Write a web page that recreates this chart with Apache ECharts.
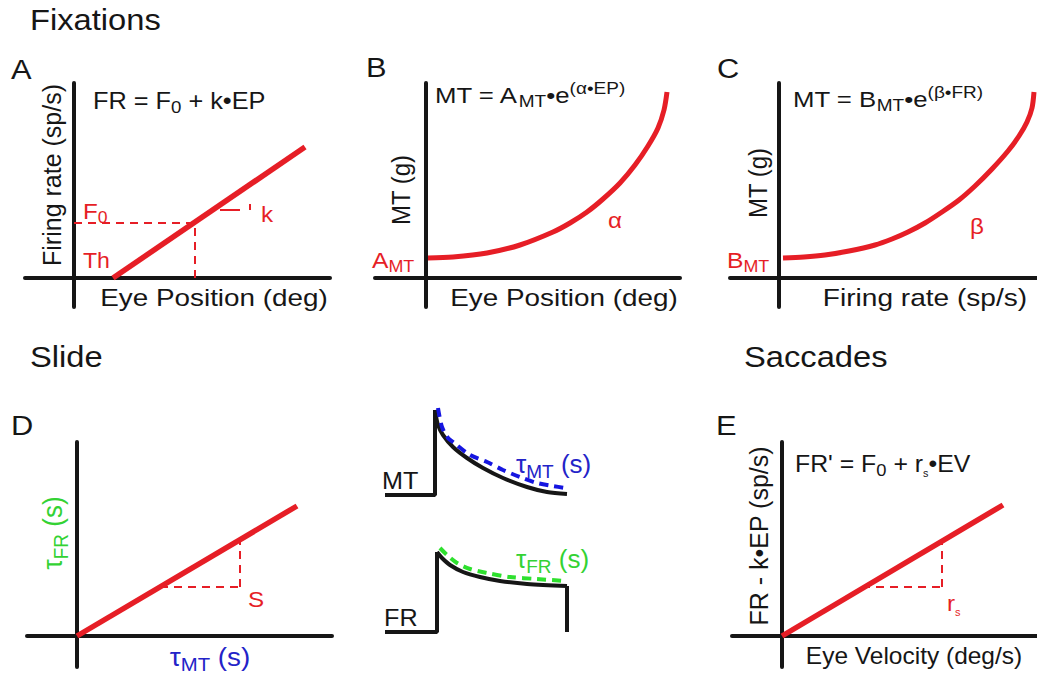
<!DOCTYPE html>
<html>
<head>
<meta charset="utf-8">
<script src="https://cdn.jsdelivr.net/npm/echarts@6/dist/echarts.min.js"></script>
<style>html,body{margin:0;padding:0;background:#fff}#c{width:1037px;height:675px}</style>
</head>
<body>
<div id="c"></div>
<script>
// ---------- data (schematic units) ----------
const aLine = [[3.9, 0], [23.1, 13.1]];
const aF0H = [[0, 5.5], [12.1, 5.5]];
const aF0V = [[12.1, 0], [12.1, 5.5]];
const aSlopeH = [[14.6, 6.8], [16.6, 6.8]];
const aSlopeV = [[17.6, 6.8], [17.6, 7.4]];

const bCurve = [[0.2, 2.0], [2.7, 2.1], [6.1, 2.5], [9.4, 3.3], [12.7, 4.6], [14.4, 5.5], [16.1, 6.6], [17.7, 7.9],
  [19.4, 9.5], [20.9, 11.3], [22.2, 13.2], [23.2, 15.0], [23.8, 16.8], [24.1, 18.6]];
const cCurve = [[0.4, 2.0], [2.5, 2.1], [4.6, 2.3], [7.0, 2.7], [9.6, 3.3], [11.3, 3.9], [12.9, 4.6], [14.6, 5.5],
  [16.3, 6.6], [18.0, 7.8], [19.6, 9.2], [21.3, 10.9], [22.9, 12.7], [24.0, 14.2], [24.8, 15.6], [25.3, 17.0], [25.5, 18.6]];

const dLine = [[0, 0], [22.0, 13.0]];
const dSlopeH = [[8.3, 4.9], [16.3, 4.9]];
const dSlopeV = [[16.3, 4.9], [16.3, 9.6]];

const eLine = [[0, 0], [22.1, 13.1]];
const eSlopeH = [[8.0, 4.9], [16.0, 4.9]];
const eSlopeV = [[16.0, 4.9], [16.0, 9.5]];

const mtStep = [[0.5, 14.5], [5.5, 14.5], [5.5, 23.0]];
const mtDecay = [[5.5, 23.0], [5.8, 21.5], [6.3, 20.5], [7.3, 19.3], [8.7, 18.2], [10.3, 17.2], [12.3, 16.2], [14.7, 15.3], [16.7, 14.8], [18.7, 14.6]];
const mtFit = [[5.8, 23.2], [6.2, 21.3], [6.8, 20.2], [7.3, 19.8], [9.0, 18.5], [10.7, 17.8], [12.3, 17.0], [14.0, 16.3], [15.7, 15.7], [17.3, 15.4], [18.5, 15.2]];
const frStep = [[0.5, 0.8], [5.7, 0.8], [5.7, 8.8]];
const frDecay = [[5.7, 8.8], [6.2, 8.2], [7.0, 7.5], [8.3, 6.8], [10.0, 6.3], [12.0, 5.9], [14.7, 5.6], [18.7, 5.4]];
const frEnd = [[18.7, 5.4], [18.7, 0.8]];
const frFit = [[6.0, 9.2], [6.7, 8.5], [7.7, 7.7], [9.0, 7.1], [10.7, 6.7], [13.0, 6.3], [15.7, 6.1], [18.5, 5.9]];

// ---------- style ----------
const FONT = '"Liberation Sans", Arial, Helvetica, sans-serif';
const RED = '#e61e26', BLACK = '#161616', BLUE = '#2323c8', GREEN = '#33d233';
const DBLUE = '#1515e0', DGREEN = '#2ee02e';

const grids = [
  {left: 25, top: 83, width: 305, height: 224, x: [-4.9, 25.6], y: [-2.9, 19.5]},   // A
  {left: 375, top: 83, width: 305, height: 224, x: [-5.1, 25.4], y: [-2.9, 19.5]},  // B
  {left: 730, top: 83, width: 307, height: 224, x: [-4.9, 25.8], y: [-2.9, 19.5]},  // C
  {left: 27, top: 442, width: 305, height: 225, x: [-5.0, 25.5], y: [-3.1, 19.4]},  // D
  {left: 732, top: 442, width: 305, height: 225, x: [-5.0, 25.5], y: [-3.1, 19.4]}, // E
  {left: 380, top: 400, width: 200, height: 240, x: [0, 20], y: [0, 24], hide: true} // traces
];

const axLine = {onZero: true, lineStyle: {color: BLACK, width: 4}};
const xAxes = grids.map((g, i) => ({
  type: 'value', gridIndex: i, min: g.x[0], max: g.x[1], show: !g.hide,
  axisLine: axLine, axisTick: {show: false}, axisLabel: {show: false}, splitLine: {show: false}
}));
const yAxes = grids.map((g, i) => ({
  type: 'value', gridIndex: i, min: g.y[0], max: g.y[1], show: !g.hide,
  axisLine: axLine, axisTick: {show: false}, axisLabel: {show: false}, splitLine: {show: false}
}));

function ser(g, data, color, width, type, smooth) {
  return {type: 'line', xAxisIndex: g, yAxisIndex: g, data: data, symbol: 'none', showSymbol: false,
    smooth: smooth || false, silent: true, clip: false, z: 3,
    lineStyle: {color: color, width: width, type: type || 'solid', cap: 'butt'}};
}
const DASH = [8, 6];
const series = [
  ser(0, aF0H, RED, 2, DASH), ser(0, aF0V, RED, 2, DASH),
  ser(0, aSlopeH, RED, 2), ser(0, aSlopeV, RED, 2),
  ser(0, aLine, RED, 5.5),
  ser(1, bCurve, RED, 5, 'solid', 0.3),
  ser(2, cCurve, RED, 5, 'solid', 0.3),
  ser(3, dSlopeH, RED, 2, DASH), ser(3, dSlopeV, RED, 2, DASH), ser(3, dLine, RED, 5.5),
  ser(4, eSlopeH, RED, 2, DASH), ser(4, eSlopeV, RED, 2, DASH), ser(4, eLine, RED, 5.5),
  ser(5, mtStep, BLACK, 4), ser(5, mtDecay, BLACK, 4, 'solid', 0.3),
  ser(5, mtFit, DBLUE, 4, [9, 6], 0.3),
  ser(5, frStep, BLACK, 4), ser(5, frDecay, BLACK, 4, 'solid', 0.3), ser(5, frEnd, BLACK, 4),
  ser(5, frFit, DGREEN, 4, [9, 6], 0.3)
];

// ---------- text ----------
function richFor(size) {
  const s = Math.round(size * 0.72), t = Math.round(size * 0.45);
  return {
    sub: {fontSize: s, fontFamily: FONT, lineHeight: s, verticalAlign: 'bottom'},
    sup: {fontSize: s, fontFamily: FONT, lineHeight: s, verticalAlign: 'top'},
    ss: {fontSize: t, fontFamily: FONT, lineHeight: t, verticalAlign: 'bottom'}
  };
}
function txt(text, x, y, size, color, align, sx, rot) {
  return {type: 'text', x: x, y: y, rotation: rot || 0, z: 10, silent: true,
    scaleX: rot ? 1 : (sx || 1.1), scaleY: rot ? (sx || 1.05) : 1,
    style: {text: text, fill: color || BLACK, fontSize: size, fontFamily: FONT,
      lineHeight: Math.round(size * 1.3), align: align || 'left', verticalAlign: 'middle', rich: richFor(size)}};
}
const R90 = Math.PI / 2;
const texts = [
  txt('Fixations', 30, 20, 30, BLACK, 'left', 1.09),
  txt('A', 11, 69, 28), txt('B', 366, 67, 28), txt('C', 717, 68, 28),
  txt('Slide', 30, 357, 30, BLACK, 'left', 1.09), txt('D', 11, 425, 28),
  txt('Saccades', 744, 357, 30, BLACK, 'left', 1.09), txt('E', 716, 425, 28),
  // formulas
  txt('FR = F{sub|0} + k•EP', 93, 101, 23, BLACK, 'left', 1.1),
  txt('MT = A{sub|MT}•e{sup|(α•EP)}', 435, 95, 23, BLACK, 'left', 1.12),
  txt('MT = B{sub|MT}•e{sup|(β•FR)}', 793, 99, 23, BLACK, 'left', 1.12),
  txt("FR' = F{sub|0} + r{ss|s}•EV", 795, 464, 23, BLACK, 'left', 1.08),
  // axis titles
  txt('Firing rate (sp/s)', 52, 175, 25, BLACK, 'center', 1.05, R90),
  txt('Eye Position (deg)', 214, 298, 24, BLACK, 'center', 1.16),
  txt('MT (g)', 401, 190, 24, BLACK, 'center', 1.05, R90),
  txt('Eye Position (deg)', 564, 298, 24, BLACK, 'center', 1.16),
  txt('MT (g)', 758, 183, 24, BLACK, 'center', 1.05, R90),
  txt('Firing rate (sp/s)', 925, 298, 24, BLACK, 'center', 1.17),
  txt('τ{sub|FR} (s)', 53, 533, 26, GREEN, 'center', 1.05, R90),
  txt('τ{sub|MT} (s)', 210, 657, 26, BLUE, 'center', 1.07),
  txt('FR - k•EP (sp/s)', 759, 536, 25, BLACK, 'center', 1.05, R90),
  txt('Eye Velocity (deg/s)', 914, 656, 24, BLACK, 'center', 1.02),
  // annotations
  txt('F{sub|0}', 83, 211, 22, RED), txt('Th', 83, 261, 22, RED, 'left', 1.05), txt('k', 261, 214, 22, RED),
  txt('A{sub|MT}', 372, 260, 22, RED, 'left', 1.12), txt('α', 608, 220, 22, RED),
  txt('B{sub|MT}', 727, 260, 22, RED, 'left', 1.12), txt('β', 970, 226, 22, RED),
  txt('S', 248, 599, 22, RED), txt('r{ss|s}', 947, 603, 22, RED),
  // trace labels
  txt('MT', 382, 481, 24, BLACK, 'left', 1.05), txt('FR', 384, 618, 24, BLACK, 'left', 1.05),
  txt('τ{sub|MT} (s)', 516, 464, 26, BLUE, 'left', 1.0), txt('τ{sub|FR} (s)', 516, 559, 26, GREEN, 'left', 1.0)
];

const chart = echarts.init(document.getElementById('c'), null, {renderer: 'svg'});
chart.setOption({
  animation: false,
  backgroundColor: '#ffffff',
  grid: grids.map(g => ({left: g.left, top: g.top, width: g.width, height: g.height, containLabel: false})),
  xAxis: xAxes,
  yAxis: yAxes,
  series: series,
  graphic: {elements: texts}
});
</script>
</body>
</html>
